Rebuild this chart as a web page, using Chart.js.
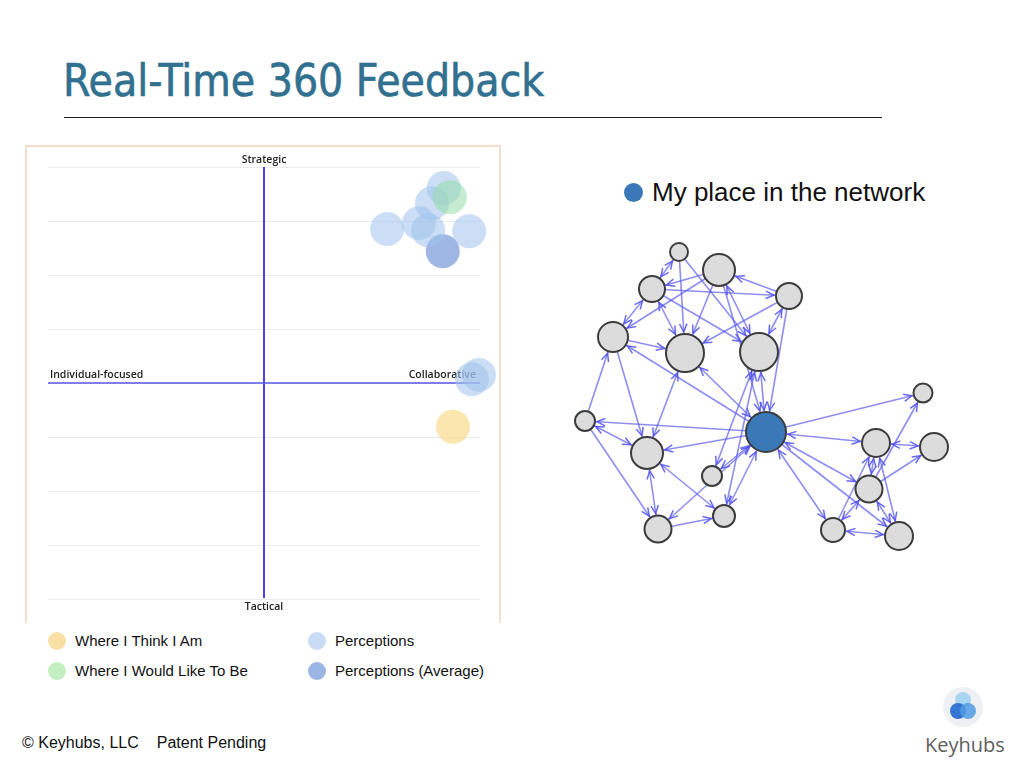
<!DOCTYPE html>
<html lang="en">
<head>
<meta charset="UTF-8">
<title>Real-Time 360 Feedback</title>
<script src="https://cdn.jsdelivr.net/npm/chart.js@4.4.1/dist/chart.umd.min.js"></script>
<style>
  html, body { margin: 0; padding: 0; background: #fff; }
  body { width: 1024px; height: 768px; position: relative; overflow: hidden; font-family: "Liberation Sans", Arial, sans-serif; }
  .abs { position: absolute; }
  #title { left: 63px; top: 55px; font-family: "DejaVu Sans Condensed", "DejaVu Sans", sans-serif; font-size: 44px; color: #31708f; white-space: nowrap; -webkit-text-stroke: 0.6px #31708f; }
  #rule { left: 64px; top: 117px; width: 818px; height: 1px; background: #222; }
  #frame { left: 25px; top: 145px; width: 472px; height: 476px; border: 2px solid #f3ddcc; border-bottom: none; }
  #quad { left: 27px; top: 147px; }
  #net { left: 560px; top: 230px; }
  .leg { font-size: 15px; color: #111; white-space: nowrap; }
  .dot { position: absolute; width: 18px; height: 18px; border-radius: 50%; }
  #me-leg { left: 624px; top: 177px; font-size: 26px; color: #111; white-space: nowrap; }
  #foot { left: 22px; top: 734px; font-size: 16px; color: #111; white-space: nowrap; }
  #logo-bg { left: 943px; top: 687px; width: 40px; height: 40px; border-radius: 50%; background: #eef0f4; }
  .lc { position: absolute; width: 16px; height: 16px; border-radius: 50%; }
  #logo-txt { left: 925px; top: 731px; font-family: "Open Sans", sans-serif; font-size: 20px; color: #606060; }
</style>
</head>
<body>
<div id="title" class="abs">Real-Time 360 Feedback</div>
<div id="rule" class="abs"></div>
<div id="frame" class="abs"></div>
<canvas id="quad" class="abs" width="472" height="473"></canvas>
<div id="legend"></div>

<div id="me-leg" class="abs"><span class="dot" style="left:0;top:6px;width:19px;height:19px;background:#3b78b8"></span><span style="margin-left:28px">My place in the network</span></div>
<canvas id="net" class="abs" width="410" height="330"></canvas>

<div id="foot" class="abs">© Keyhubs, LLC<span style="margin-left:18px">Patent Pending</span></div>
<div id="logo-bg" class="abs">
  <div class="lc" style="left:12px;top:5px;background:#a9d6f2"></div>
  <div class="lc" style="left:7px;top:16px;background:#2a6fd2;opacity:0.95"></div>
  <div class="lc" style="left:17px;top:16px;background:#4f9be3;opacity:0.85"></div>
</div>
<div id="logo-txt" class="abs">Keyhubs</div>

<script>
// ---- quadrant chart data (x: individual -> collaborative, y: tactical -> strategic)
const thinkPts = [{ x: 3.50, y: -0.81 }];
const likePts = [{ x: 3.44, y: 3.44 }];
const perceptionPts = [
  { x: 3.33, y: 3.61 }, { x: 3.11, y: 3.33 }, { x: 2.28, y: 2.85 },
  { x: 2.87, y: 2.96 }, { x: 3.04, y: 2.83 }, { x: 3.80, y: 2.81 },
  { x: 3.98, y: 0.15 }, { x: 3.85, y: 0.07 }
];
const avgPts = [{ x: 3.31, y: 2.44 }];
const seriesNames = ['Where I Think I Am', 'Where I Would Like To Be', 'Perceptions', 'Perceptions (Average)'];
const seriesColors = ['rgba(246,214,120,0.6)', 'rgba(150,220,170,0.55)', 'rgba(160,194,236,0.55)', 'rgba(95,135,210,0.6)'];
const legendColors = ['#f9e1a6', '#c4efc1', '#cadcf5', '#9bb6e4'];
const axisLabels = { top: 'Strategic', bottom: 'Tactical', left: 'Individual-focused', right: 'Collaborative' };

// ---- network data
const nodeNames = ['A','B','C','D','E','F','G','H','M','I','J','K','L','N','O','P','Q','R','S'];
const nodeX = [679, 719, 652, 789, 613, 685, 759, 585, 766, 923, 647, 876, 934, 712, 869, 658, 724, 833, 899];
const nodeY = [252, 270, 289, 296, 337, 353, 352, 421, 432, 393, 453, 443, 447, 476, 489, 529, 516, 530, 536];
const nodeR = [9, 16, 13, 13, 15, 19, 19, 10, 20, 9.5, 16, 14, 14, 10, 13.5, 13.5, 11, 12, 14];
const meNode = 'M';
// [from, to, both directions]
const edges = [
  ['C','A',1], ['C','E',1], ['B','C',0], ['A','F',0], ['A','G',0], ['B','E',0], ['B','F',0],
  ['B','G',1], ['B','M',0], ['D','B',0], ['D','F',0], ['D','G',1], ['D','M',0], ['C','F',1],
  ['C','G',0], ['C','D',0], ['E','F',0], ['E','J',0], ['H','E',0], ['H','P',0], ['H','J',1],
  ['M','H',0], ['M','E',0], ['M','F',1], ['M','G',1], ['M','J',0], ['M','N',1], ['M','P',1],
  ['M','Q',1], ['M','I',0], ['M','K',1], ['M','O',1], ['M','R',1], ['M','S',0], ['F','J',1],
  ['J','P',1], ['J','Q',1], ['P','Q',0], ['N','G',1], ['K','L',1], ['K','O',1], ['K','S',1],
  ['O','R',1], ['O','S',1], ['O','L',0], ['R','S',1], ['R','K',0], ['O','I',0], ['G','Q',1]
];

// ---------------- quadrant chart
const quadLabels = {
  id: 'quadLabels',
  beforeDatasetsDraw(chart) {
    const { ctx, chartArea: a, scales } = chart;
    const x0 = scales.x.getPixelForValue(0);
    const y0 = scales.y.getPixelForValue(0);
    ctx.save();
    ctx.strokeStyle = '#4b40ec';
    ctx.lineWidth = 2;
    ctx.beginPath(); ctx.moveTo(x0, a.top); ctx.lineTo(x0, a.bottom - 1); ctx.stroke();
    ctx.strokeStyle = '#5a58e4';
    ctx.lineWidth = 1.6;
    ctx.beginPath(); ctx.moveTo(a.left, y0); ctx.lineTo(a.right, y0); ctx.stroke();
    ctx.fillStyle = '#222';
    ctx.font = '600 10.5px "Open Sans", sans-serif';
    ctx.textBaseline = 'middle';
    ctx.textAlign = 'center';
    ctx.fillText(axisLabels.top, x0, a.top - 7);
    ctx.fillText(axisLabels.bottom, x0, a.bottom + 8);
    ctx.textAlign = 'left';
    ctx.fillText(axisLabels.left, a.left + 2, y0 - 8);
    ctx.textAlign = 'right';
    ctx.fillText(axisLabels.right, a.right - 4, y0 - 8);
    ctx.restore();
  }
};

const quadSets = [thinkPts, likePts, perceptionPts, avgPts].map((pts, i) => ({
  label: seriesNames[i],
  data: pts.map(p => ({ x: p.x, y: p.y, r: 17 })),
  backgroundColor: seriesColors[i],
  borderWidth: 0,
  clip: false
}));

new Chart(document.getElementById('quad'), {
  type: 'bubble',
  data: { datasets: quadSets },
  options: {
    responsive: false,
    animation: false,
    events: [],
    layout: { autoPadding: false, padding: { left: 21, right: 19, top: 20, bottom: 21 } },
    scales: {
      x: { min: -4, max: 4, display: false },
      y: {
        min: -4, max: 4,
        ticks: { display: false, stepSize: 1 },
        border: { display: false },
        grid: { color: '#ebebeb', drawTicks: false }
      }
    },
    plugins: { legend: { display: false }, tooltip: { enabled: false } }
  },
  plugins: [quadLabels]
});

// html legend built from the same series
const legendBox = document.getElementById('legend');
const legendPos = [[48, 632], [48, 662], [308, 632], [308, 662]];
seriesNames.forEach((name, i) => {
  const d = document.createElement('div');
  d.className = 'abs leg';
  d.style.left = legendPos[i][0] + 'px';
  d.style.top = legendPos[i][1] + 'px';
  d.innerHTML = '<span class="dot" style="left:0;top:0;background:' + legendColors[i] + '"></span><span style="margin-left:27px;line-height:18px">' + name + '</span>';
  legendBox.appendChild(d);
});

// ---------------- network chart
const idx = n => nodeNames.indexOf(n);
const edgeColor = 'rgba(88,88,235,0.68)';

const arrowHeads = {
  id: 'arrowHeads',
  afterDatasetsDraw(chart) {
    const { ctx, scales } = chart;
    const head = (fromI, toI) => {
      const x1 = scales.x.getPixelForValue(nodeX[fromI]), y1 = scales.y.getPixelForValue(nodeY[fromI]);
      const x2 = scales.x.getPixelForValue(nodeX[toI]), y2 = scales.y.getPixelForValue(nodeY[toI]);
      const ang = Math.atan2(y2 - y1, x2 - x1);
      const tx = x2 - Math.cos(ang) * (nodeR[toI] + 2);
      const ty = y2 - Math.sin(ang) * (nodeR[toI] + 2);
      ctx.beginPath();
      ctx.moveTo(tx - 9 * Math.cos(ang - 0.42), ty - 9 * Math.sin(ang - 0.42));
      ctx.lineTo(tx, ty);
      ctx.lineTo(tx - 9 * Math.cos(ang + 0.42), ty - 9 * Math.sin(ang + 0.42));
      ctx.stroke();
    };
    ctx.save();
    ctx.strokeStyle = 'rgba(80,80,235,0.85)';
    ctx.lineWidth = 1.5;
    edges.forEach(e => {
      head(idx(e[0]), idx(e[1]));
      if (e[2]) head(idx(e[1]), idx(e[0]));
    });
    ctx.restore();
  }
};

const edgeSets = edges.map(e => ({
  type: 'line',
  data: [{ x: nodeX[idx(e[0])], y: nodeY[idx(e[0])] }, { x: nodeX[idx(e[1])], y: nodeY[idx(e[1])] }],
  borderColor: edgeColor,
  borderWidth: 1.6,
  pointRadius: 0,
  fill: false,
  order: 2
}));

const nodeSet = {
  type: 'bubble',
  data: nodeNames.map((n, i) => ({ x: nodeX[i], y: nodeY[i], r: nodeR[i] })),
  backgroundColor: nodeNames.map(n => n === meNode ? '#3b78b8' : '#dcdcdc'),
  borderColor: '#3c3c3c',
  borderWidth: 2,
  order: 0
};

new Chart(document.getElementById('net'), {
  type: 'bubble',
  data: { datasets: [nodeSet, ...edgeSets] },
  options: {
    responsive: false,
    animation: false,
    events: [],
    layout: { autoPadding: false, padding: 0 },
    scales: {
      x: { type: 'linear', min: 560, max: 970, display: false },
      y: { type: 'linear', min: 230, max: 560, reverse: true, display: false }
    },
    plugins: { legend: { display: false }, tooltip: { enabled: false } }
  },
  plugins: [arrowHeads]
});
</script>
</body>
</html>
